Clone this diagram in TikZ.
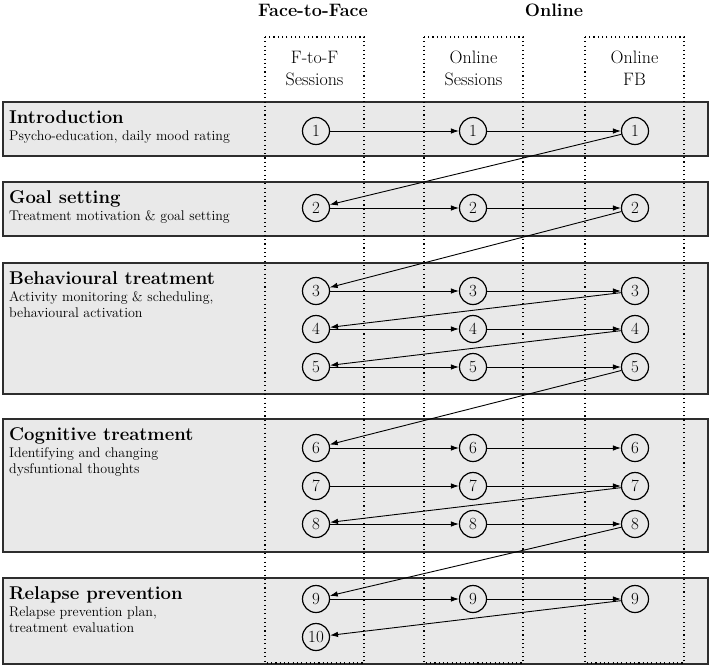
\documentclass[tikz,border=0pt]{standalone}
\usetikzlibrary{arrows.meta}
\definecolor{bandgray}{RGB}{233,233,233}
\definecolor{bandline}{RGB}{45,45,45}
\begin{document}
\begin{tikzpicture}[x=1pt,y=-1pt]
  \tikzstyle{band}=[fill=bandgray, draw=bandline, line width=2pt]
  \tikzstyle{column}=[draw=black, line width=1.1pt, dash pattern=on 1.1pt off 3.2pt]
  \tikzstyle{session}=[circle, draw, line width=1.2pt, minimum size=27pt, inner sep=0pt, font=\fontsize{17}{17}\selectfont]
  \tikzstyle{flow}=[-{Latex[length=8pt,width=5.5pt]}, line width=0.9pt]
  \tikzstyle{title}=[anchor=base west, inner sep=0pt, font=\fontsize{18.5}{21}\selectfont\bfseries]
  \tikzstyle{descr}=[anchor=base west, inner sep=0pt, font=\fontsize{14}{16}\selectfont]
  \tikzstyle{head}=[anchor=base, inner sep=0pt, font=\fontsize{18}{20}\selectfont\bfseries]
  \tikzstyle{colhead}=[anchor=base, inner sep=0pt, font=\fontsize{18}{20}\selectfont]
  \useasboundingbox (0,0) rectangle (711,667);

  % Phase bands
  \draw[band] (3,102) rectangle (708,156);
  \draw[band] (3,182) rectangle (708,236);
  \draw[band] (3,263) rectangle (708,394);
  \draw[band] (3,419) rectangle (708,552);
  \draw[band] (3,578) rectangle (708,664);

  % Delivery columns
  \draw[column] (265,37) rectangle (364,663);
  \draw[column] (424,37) rectangle (523,663);
  \draw[column] (585,37) rectangle (684,663);

  % Headings
  \node[head] (hface) at (313,16) {Face-to-Face};
  \node[head] (honline) at (554,16) {Online};
  \node[colhead] (cface1) at (314.5,63) {F-to-F};
  \node[colhead] (cface2) at (314.5,85) {Sessions};
  \node[colhead] (conline1) at (473.5,63) {Online};
  \node[colhead] (conline2) at (473.5,85) {Sessions};
  \node[colhead] (cfb1) at (634.5,63) {Online};
  \node[colhead] (cfb2) at (634.5,85) {FB};

  % Phase texts
  \node[title] (tintro) at (9,123) {Introduction};
  \node[descr] (dintro) at (9,140) {Psycho-education, daily mood rating};
  \node[title] (tgoal) at (9,203) {Goal setting};
  \node[descr] (dgoal) at (9,220) {Treatment motivation \& goal setting};
  \node[title] (tbehav) at (9,284) {Behavioural treatment};
  \node[descr] (dbehav1) at (9,301) {Activity monitoring \& scheduling,};
  \node[descr] (dbehav2) at (9,317) {behavioural activation};
  \node[title] (tcogn) at (9,440) {Cognitive treatment};
  \node[descr] (dcogn1) at (9,457) {Identifying and changing};
  \node[descr] (dcogn2) at (9,473) {dysfuntional thoughts};
  \node[title] (trelapse) at (9,599) {Relapse prevention};
  \node[descr] (drelapse1) at (9,616) {Relapse prevention plan,};
  \node[descr] (drelapse2) at (9,632) {treatment evaluation};

  % Session nodes: F-to-F
  \node[session] (f1) at (316,131) {1};
  \node[session] (f2) at (316,208) {2};
  \node[session] (f3) at (316,291) {3};
  \node[session] (f4) at (316,329) {4};
  \node[session] (f5) at (316,367) {5};
  \node[session] (f6) at (316,448) {6};
  \node[session] (f7) at (316,486) {7};
  \node[session] (f8) at (316,524) {8};
  \node[session] (f9) at (316,599) {9};
  \node[session] (f10) at (316,637) {10};

  % Session nodes: online sessions
  \node[session] (o1) at (473,131) {1};
  \node[session] (o2) at (473,208) {2};
  \node[session] (o3) at (473,291) {3};
  \node[session] (o4) at (473,329) {4};
  \node[session] (o5) at (473,367) {5};
  \node[session] (o6) at (473,448) {6};
  \node[session] (o7) at (473,486) {7};
  \node[session] (o8) at (473,524) {8};
  \node[session] (o9) at (473,599) {9};

  % Session nodes: online feedback
  \node[session] (b1) at (635,131) {1};
  \node[session] (b2) at (635,208) {2};
  \node[session] (b3) at (635,291) {3};
  \node[session] (b4) at (635,329) {4};
  \node[session] (b5) at (635,367) {5};
  \node[session] (b6) at (635,448) {6};
  \node[session] (b7) at (635,486) {7};
  \node[session] (b8) at (635,524) {8};
  \node[session] (b9) at (635,599) {9};

  % Horizontal flow
  \draw[flow] (f1) -- (o1);  \draw[flow] (o1) -- (b1);
  \draw[flow] (f2) -- (o2);  \draw[flow] (o2) -- (b2);
  \draw[flow] (f3) -- (o3);  \draw[flow] (o3) -- (b3);
  \draw[flow] (f4) -- (o4);  \draw[flow] (o4) -- (b4);
  \draw[flow] (f5) -- (o5);  \draw[flow] (o5) -- (b5);
  \draw[flow] (f6) -- (o6);  \draw[flow] (o6) -- (b6);
  \draw[flow] (f7) -- (o7);  \draw[flow] (o7) -- (b7);
  \draw[flow] (f8) -- (o8);  \draw[flow] (o8) -- (b8);
  \draw[flow] (f9) -- (o9);  \draw[flow] (o9) -- (b9);

  % Back to the next face-to-face session
  \draw[flow] (b1) -- (f2);
  \draw[flow] (b2) -- (f3);
  \draw[flow] (b3) -- (f4);
  \draw[flow] (b4) -- (f5);
  \draw[flow] (b5) -- (f6);
  \draw[flow] (b7) -- (f8);
  \draw[flow] (b8) -- (f9);
  \draw[flow] (b9) -- (f10);
\end{tikzpicture}
\end{document}
